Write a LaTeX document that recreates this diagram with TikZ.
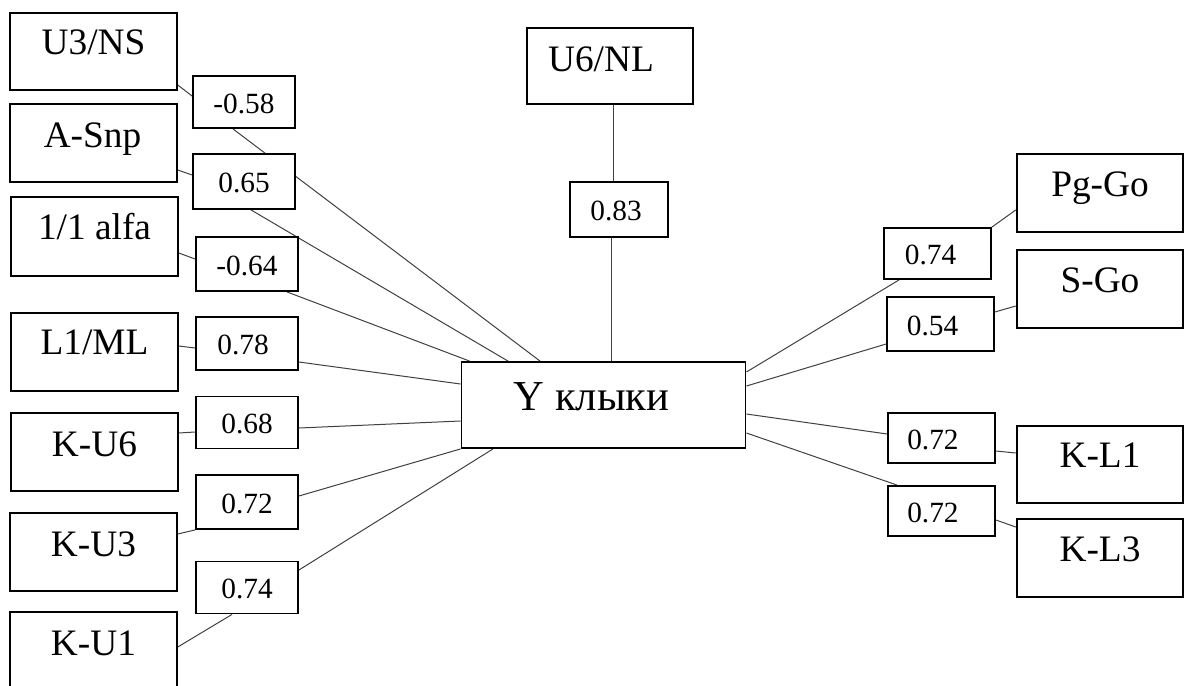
\documentclass[tikz,border=0pt]{standalone}
\usepackage{fontspec}
\setmainfont{Liberation Serif}
\usetikzlibrary{calc,backgrounds}
\begin{document}
\begin{tikzpicture}[x=0.75pt,y=-0.75pt,
  bigbox/.style={draw, line width=1.4pt, fill=white, inner sep=0pt, minimum width=125pt, minimum height=58.5pt},
  numbox/.style={draw, line width=1.4pt, fill=white, inner sep=0pt, minimum width=76.5pt, minimum height=39pt},
  bigtxt/.style={font=\fontsize{28}{32}\selectfont, anchor=base, inner sep=0pt},
  numtxt/.style={font=\fontsize{22}{26}\selectfont, yshift=-1.2pt},
  conn/.style={draw=black!75, line width=0.75pt}]
\useasboundingbox (0,0) rectangle (1184,685);
% center
\node[draw, line width=1.4pt, fill=white, inner sep=0pt, minimum width=213pt, minimum height=64.5pt] (Y) at (603.5,405) {};
\node[font=\fontsize{32}{36}\selectfont, anchor=base, inner sep=0pt] (tY) at ($(Y.center)+(-12,5)$) {Y клыки};
% left big boxes
\node[bigbox, minimum height=57.75pt] (u3ns) at (93.5,51.5) {};
\node[bigbox] (asnp) at (93.5,143) {};
\node[bigbox, minimum height=59.25pt] (alfa) at (94.5,236.5) {};
\node[bigbox] (l1ml) at (94.5,352) {};
\node[bigbox] (ku6) at (94.5,452) {};
\node[bigbox] (ku3) at (93.5,552) {};
\node[bigbox] (ku1) at (93.5,651) {};
\node[bigtxt] (tu3ns) at ($(u3ns.center)+(0,3.5)$) {U3/NS};
\node[bigtxt] (tasnp) at ($(asnp.center)+(-1,4)$) {A-Snp};
\node[bigtxt] (talfa) at ($(alfa.center)+(0,2.5)$) {1/1 alfa};
\node[bigtxt] (tl1ml) at ($(l1ml.center)+(0,2.5)$) {L1/ML};
\node[bigtxt] (tku6) at ($(ku6.center)+(0,4)$) {K-U6};
\node[bigtxt] (tku3) at ($(ku3.center)+(0,4)$) {K-U3};
\node[bigtxt] (tku1) at ($(ku1.center)+(0,4)$) {K-U1};
% left number boxes
\node[numbox, label={[numtxt]center:-0.58}] (m58) at (244,102) {};
\node[numbox, minimum height=41.25pt, label={[numtxt]center:0.65}] (m65) at (244,181.5) {};
\node[numbox, minimum height=40.5pt, label={[numtxt]center:-0.64}] (m64) at (247,264) {};
\node[numbox, minimum height=39.75pt, label={[numtxt, xshift=-3pt]center:0.78}] (m78) at (247,343.5) {};
\node[numbox, label={[numtxt]center:0.68}] (m68) at (247,422.5) {};
\node[numbox, minimum height=40.5pt, label={[numtxt]center:0.72}] (m72) at (247,502) {};
\node[numbox, label={[numtxt]center:0.74}] (m74) at (247,587.5) {};
% top
\node[bigbox, minimum width=124.5pt, minimum height=57pt] (u6nl) at (610,66) {};
\node[bigtxt] (tu6nl) at ($(u6nl.center)+(-9,5)$) {U6/NL};
\node[numbox, minimum width=73.5pt, minimum height=41.25pt, label={[numtxt, xshift=-2.25pt]center:0.83}] (m83) at (619,209.5) {};
% right big boxes
\node[bigbox] (pggo) at (1100,193) {};
\node[bigbox] (sgo) at (1100,289) {};
\node[bigbox, minimum height=57.75pt] (kl1) at (1100,464.5) {};
\node[bigbox] (kl3) at (1100,558) {};
\node[bigtxt] (tpggo) at ($(pggo.center)+(0,3)$) {Pg-Go};
\node[bigtxt] (tsgo) at ($(sgo.center)+(0,3)$) {S-Go};
\node[bigtxt] (tkl1) at ($(kl1.center)+(0,3)$) {K-L1};
\node[bigtxt] (tkl3) at ($(kl3.center)+(0,3)$) {K-L3};
% right number boxes
\node[numbox, minimum width=80.25pt, minimum height=38.25pt, label={[numtxt, xshift=-5.25pt]center:0.74}] (r74) at (937.5,253.5) {};
\node[numbox, minimum width=80.25pt, minimum height=40.5pt, label={[numtxt, xshift=-6pt]center:0.54}] (r54) at (940.5,324) {};
\node[numbox, minimum width=80.25pt, minimum height=37.5pt, label={[numtxt, xshift=-6.4pt]center:0.72}] (r72a) at (941.5,438) {};
\node[numbox, minimum width=80.25pt, minimum height=37.5pt, label={[numtxt, xshift=-6.4pt]center:0.72}] (r72b) at (941.5,511) {};
% connectors
\begin{scope}[on background layer]
\draw[conn] ($(u3ns.east)+(0,33.5)$) -- ($(m58.west)+(0,-6)$);
\draw[conn] ($(m58.south)+(-11,0)$) -- ($(Y.north)+(-63.5,0)$);
\draw[conn] ($(asnp.east)+(0,27)$) -- ($(m65.west)+(0,-6.5)$);
\draw[conn] ($(m65.south)+(7,0)$) -- ($(Y.north)+(-95.5,0)$);
\draw[conn] ($(alfa.east)+(0,16.5)$) -- ($(m64.west)+(0,-5)$);
\draw[conn] ($(m64.south)+(40,0)$) -- ($(Y.north west)+(9,0)$);
\draw[conn] ($(l1ml.east)+(0,-6)$) -- ($(m78.west)+(0,4.5)$);
\draw[conn] ($(m78.east)+(0,18.5)$) -- ($(Y.west)+(0,-21)$);
\draw[conn] ($(ku6.east)+(0,-19)$) -- ($(m68.west)+(0,9.5)$);
\draw[conn] ($(m68.east)+(0,5.5)$) -- ($(Y.west)+(0,16)$);
\draw[conn] ($(ku3.east)+(0,-18)$) -- (m72.south west);
\draw[conn] ($(m72.east)+(0,-6)$) -- (Y.south west);
\draw[conn] ($(ku1.east)+(0,-4)$) -- ($(m74.south)+(-15,0)$);
\draw[conn] ($(m74.east)+(0,-17.5)$) -- ($(Y.south)+(-110.5,0)$);
\draw[conn] ($(u6nl.south)+(3,0)$) -- ($(m83.north)+(-6,0)$);
\draw[conn] ($(m83.south)+(-8,0)$) -- ($(Y.north)+(7.5,0)$);
\draw[conn] ($(pggo.west)+(0,17)$) -- (r74.north east);
\draw[conn] ($(r74.south)+(-38.5,0)$) -- ($(Y.east)+(0,-33)$);
\draw[conn] ($(sgo.west)+(0,17)$) -- ($(r54.east)+(0,-12)$);
\draw[conn] ($(r54.west)+(0,20)$) -- ($(Y.east)+(0,-19)$);
\draw[conn] ($(kl1.west)+(0,-11.5)$) -- ($(r72a.east)+(0,13)$);
\draw[conn] ($(r72a.west)+(0,-4)$) -- ($(Y.east)+(0,9)$);
\draw[conn] ($(kl3.west)+(0,-31)$) -- ($(r72b.east)+(0,9)$);
\draw[conn] ($(r72b.north)+(-44.5,0)$) -- ($(Y.east)+(0,28)$);
\end{scope}
\end{tikzpicture}
\end{document}
